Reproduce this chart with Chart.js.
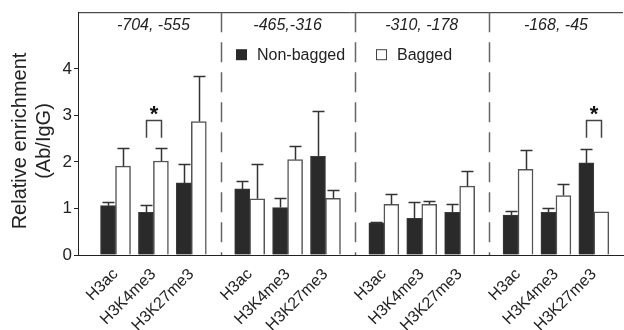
<!DOCTYPE html>
<html>
<head>
<meta charset="utf-8">
<script src="https://cdn.jsdelivr.net/npm/chart.js@4.4.0/dist/chart.umd.min.js"></script>
<style>
  html, body { margin: 0; padding: 0; background: #fff; }
  #contenedor { width: 624px; height: 330px; }
</style>
</head>
<body>
<div id="contenedor"><canvas id="grafico" width="624" height="330"></canvas></div>
<script>
// Datos (enriquecimiento relativo Ab/IgG)
const marcas = ['H3ac', 'H3K4me3', 'H3K27me3', 'H3ac', 'H3K4me3', 'H3K27me3',
                'H3ac', 'H3K4me3', 'H3K27me3', 'H3ac', 'H3K4me3', 'H3K27me3'];
const regiones = ['-704, -555', '-465,-316', '-310, -178', '-168, -45'];
const series = ['Non-bagged', 'Bagged'];
const noEmbolsado = [1.06, 0.92, 1.55, 1.42, 1.02, 2.12, 0.69, 0.79, 0.92, 0.86, 0.92, 1.98];
const noEmbolsadoError = [0.08, 0.16, 0.41, 0.18, 0.21, 0.98, 0.03, 0.36, 0.18, 0.09, 0.09, 0.29];
const embolsado = [1.91, 2.02, 2.87, 1.21, 2.05, 1.22, 1.09, 1.09, 1.48, 1.84, 1.28, 0.93];
const embolsadoError = [0.39, 0.29, 0.97, 0.75, 0.29, 0.17, 0.22, 0.08, 0.32, 0.41, 0.24, 0];
const significativos = [1, 11];   // índices con asterisco
const ticksY = [0, 1, 2, 3, 4];
const tituloY = ['Relative enrichment', '(Ab/IgG)'];

const fuente = '"Liberation Sans", Arial, sans-serif';

// posición de cada categoría en el eje x (3 por región, con hueco entre regiones)
const posiciones = marcas.map((m, i) => i + Math.floor(i / 3) * 0.54);

// Plugin para barras de error, separadores, corchetes, leyenda y título del eje y
const extras = {
    id: 'extras',
    afterDatasetsDraw(chart) {
        const ctx = chart.ctx;
        const area = chart.chartArea;
        const x = chart.scales.x;
        const y = chart.scales.y;
        const errores = [noEmbolsadoError, embolsadoError];

        ctx.save();

        // barras de error (solo hacia arriba)
        chart.data.datasets.forEach((ds, d) => {
            const meta = chart.getDatasetMeta(d);
            meta.data.forEach((barra, i) => {
                const err = errores[d][i];
                if (!err) return;
                const yTop = Math.round(y.getPixelForValue(ds.data[i].y + err)) + 0.5;
                const xb = Math.round(barra.x) + 0.5;
                ctx.strokeStyle = '#333';
                ctx.lineWidth = 1.5;
                ctx.beginPath();
                ctx.moveTo(xb, barra.y);
                ctx.lineTo(xb, yTop);
                ctx.moveTo(xb - 6, yTop);
                ctx.lineTo(xb + 6, yTop);
                ctx.stroke();
            });
        });

        // borde superior
        ctx.strokeStyle = '#222';
        ctx.lineWidth = 1;
        ctx.beginPath();
        ctx.moveTo(area.left, area.top + 0.5);
        ctx.lineTo(area.right, area.top + 0.5);
        ctx.stroke();

        // separadores discontinuos entre regiones
        ctx.strokeStyle = '#666';
        ctx.lineWidth = 1.5;
        ctx.setLineDash([20, 10]);
        for (let g = 1; g < regiones.length; g++) {
            const xs = Math.round((x.getPixelForValue(posiciones[g * 3 - 1]) + x.getPixelForValue(posiciones[g * 3])) / 2) + 0.5;
            ctx.beginPath();
            ctx.moveTo(xs, area.top);
            ctx.lineTo(xs, area.bottom);
            ctx.stroke();
        }
        ctx.setLineDash([]);

        // etiquetas de región
        ctx.fillStyle = '#222';
        ctx.font = 'italic 16px ' + fuente;
        ctx.textAlign = 'center';
        ctx.textBaseline = 'middle';
        regiones.forEach((r, g) => {
            ctx.fillText(r, x.getPixelForValue(posiciones[g * 3 + 1]), area.top + 13);
        });

        // corchetes con asterisco
        significativos.forEach(i => {
            const x0 = Math.round(chart.getDatasetMeta(0).data[i].x) + 0.5;
            const x1 = Math.round(chart.getDatasetMeta(1).data[i].x) + 0.5;
            const yA = Math.round(y.getPixelForValue(2.9)) + 0.5;
            const yB = y.getPixelForValue(2.52);
            ctx.strokeStyle = '#444';
            ctx.lineWidth = 1.5;
            ctx.beginPath();
            ctx.moveTo(x0, yB);
            ctx.lineTo(x0, yA);
            ctx.lineTo(x1, yA);
            ctx.lineTo(x1, yB);
            ctx.stroke();
            ctx.fillStyle = '#111';
            ctx.font = 'bold 22px ' + fuente;
            ctx.textAlign = 'center';
            ctx.textBaseline = 'middle';
            ctx.fillText('*', (x0 + x1) / 2, yA - 6);
        });

        // leyenda
        ctx.font = '16px ' + fuente;
        ctx.textAlign = 'left';
        ctx.textBaseline = 'middle';
        const leyX = [area.left + 158, area.left + 298];
        series.forEach((s, d) => {
            const ds = chart.data.datasets[d];
            ctx.fillStyle = ds.backgroundColor;
            ctx.fillRect(leyX[d], area.top + 37, 11, 11);
            if (d === 1) {
                ctx.strokeStyle = '#444';
                ctx.lineWidth = 1;
                ctx.strokeRect(leyX[d] + 0.5, area.top + 37.5, 10, 10);
            }
            ctx.fillStyle = '#222';
            ctx.fillText(s, leyX[d] + 21, area.top + 43);
        });

        // título del eje y (dos líneas, giradas)
        ctx.fillStyle = '#222';
        ctx.font = '20px ' + fuente;
        ctx.textAlign = 'center';
        ctx.textBaseline = 'middle';
        tituloY.forEach((t, k) => {
            ctx.save();
            ctx.translate(20 + k * 24.5, 141);
            ctx.rotate(-Math.PI / 2);
            ctx.fillText(t, 0, 0);
            ctx.restore();
        });

        ctx.restore();
    }
};

const ctx = document.getElementById('grafico').getContext('2d');
const grafico = new Chart(ctx, {
    type: 'bar',
    data: {
        datasets: [{
            label: series[0],
            data: noEmbolsado.map((v, i) => ({ x: posiciones[i], y: v })),
            backgroundColor: '#2a2a2a',
            borderColor: '#3a3a3a',
            borderWidth: 1,
            barThickness: 15
        }, {
            label: series[1],
            data: embolsado.map((v, i) => ({ x: posiciones[i], y: v })),
            backgroundColor: '#ffffff',
            borderColor: '#555555',
            borderWidth: 1.5,
            barThickness: 15
        }]
    },
    options: {
        responsive: false,
        animation: false,
        devicePixelRatio: 1,
        layout: { padding: { top: 11, right: 1, left: 0, bottom: 0 } },
        plugins: {
            legend: { display: false },
            tooltip: { enabled: false }
        },
        scales: {
            x: {
                type: 'linear',
                offset: false,
                min: -0.99,
                max: 13.39,
                grid: { display: false, offset: false },
                border: { display: true, color: '#222', width: 1 },
                afterBuildTicks: s => { s.ticks = posiciones.map(v => ({ value: v })); },
                afterFit: s => { s.height = 75; },
                ticks: {
                    autoSkip: false,
                    minRotation: 45,
                    maxRotation: 45,
                    padding: 2,
                    color: '#222',
                    font: { family: fuente, size: 16 },
                    callback: (v, i) => marcas[i]
                }
            },
            y: {
                min: 0,
                max: 5.22,
                afterBuildTicks: s => { s.ticks = ticksY.map(v => ({ value: v })); },
                afterFit: s => { s.width = 78; },
                grid: { drawOnChartArea: false, drawTicks: true, tickLength: 4, color: '#222' },
                border: { display: true, color: '#222', width: 1 },
                ticks: {
                    padding: 2,
                    color: '#222',
                    font: { family: fuente, size: 17 }
                }
            }
        }
    },
    plugins: [extras]
});
</script>
</body>
</html>
